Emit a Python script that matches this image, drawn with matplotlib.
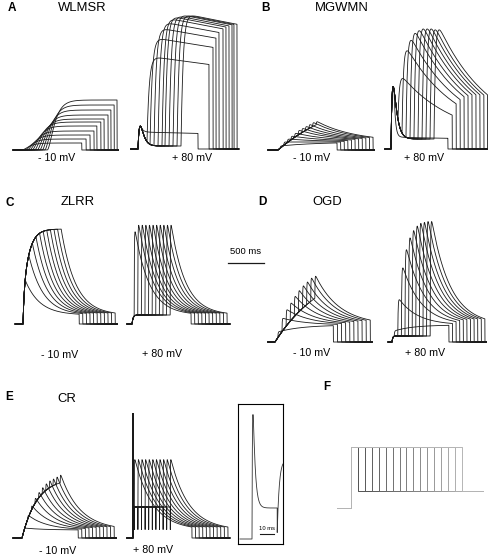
import numpy as np
import matplotlib
matplotlib.use('Agg')
import matplotlib.pyplot as plt

plt.rcParams['font.family'] = ['Liberation Sans', 'DejaVu Sans']

W, H = 489, 555
PX_PER_MS = 0.072      # 500 ms = 36 px
PX_PER_UNIT = 10.0     # current units (a.u.)
LINE = '#1a1a1a'

# ---- data (times in ms from pulse onset, currents in a.u.) ----
steps50 = [30, 80, 130, 180, 230, 280, 330, 380, 430, 480, 530]

A_neg_rise = [0, 35, 70, 105, 140, 175, 210, 245, 280, 315, 350]
A_neg_end = [830, 890, 945, 1000, 1040, 1095, 1140, 1195, 1235, 1280, 1320]
A_neg_peak = [0.7, 1.1, 1.5, 1.9, 2.4, 2.8, 3.1, 3.5, 4.0, 4.5, 5.0]

A_pos_step = [42, 125, 167, 222, 278, 333, 375, 431, 486, 542, 597]
A_pos_end = [833, 986, 1042, 1083, 1125, 1181, 1222, 1264, 1306, 1333, 1375]
A_pos_peak = [1.7, 9.3, 11.2, 12.2, 12.8, 13.2, 13.4, 13.5, 13.6, 13.6, 13.6]

B_neg_step = steps50
B_neg_end = [820, 870, 920, 970, 1020, 1070, 1120, 1170, 1220, 1270, 1320]
B_neg_peak = [0.4, 0.8, 1.1, 1.4, 1.7, 2.0, 2.2, 2.4, 2.6, 2.8, 2.9]

B_pos_step = [42, 97, 153, 208, 264, 319, 375, 431, 486, 542, 597]
B_pos_end = [790, 850, 905, 960, 1015, 1070, 1125, 1180, 1235, 1290, 1340]
B_pos_peak = [1.2, 7.8, 11.0, 12.2, 13.0, 13.3, 13.5, 13.5, 13.5, 13.4, 13.4]

C_neg_step = steps50
C_neg_end = [780, 830, 880, 930, 980, 1030, 1080, 1130, 1180, 1230, 1280]

C_pos_step = steps50
C_pos_end = [820, 870, 920, 970, 1020, 1070, 1120, 1170, 1220, 1270, 1320]
C_pos_peak = [9.9, 10.6, 10.6, 10.6, 10.6, 10.6, 10.6, 10.6, 10.6, 10.6, 10.6]

D_neg_step = [40, 97, 154, 211, 268, 325, 382, 439, 496, 553]
D_neg_end = [810, 867, 924, 981, 1038, 1095, 1152, 1209, 1266, 1323]
D_neg_peak = [1.0, 2.4, 3.3, 4.0, 4.7, 5.3, 5.8, 6.2, 6.6, 6.8]

D_pos_step = steps50
D_pos_end = [790, 840, 890, 940, 990, 1040, 1090, 1140, 1190, 1240, 1290]
D_pos_peak = [1.1, 4.5, 8.0, 10.0, 11.3, 12.1, 12.6, 12.9, 13.0, 13.1, 13.1]

E_neg_step = steps50
E_neg_end = [780, 830, 880, 930, 980, 1030, 1080, 1130, 1180, 1230, 1280]
E_neg_peak = [1.0, 2.3, 3.3, 4.1, 4.7, 5.2, 5.6, 5.9, 6.1, 6.3, 6.5]

E_pos_step = [18, 68, 118, 168, 218, 268, 318, 368, 418, 468, 518]
E_pos_end = [818, 868, 918, 968, 1018, 1068, 1118, 1168, 1218, 1268, 1318]
E_pos_peak = [8.1] * 11

# voltage protocol (panel F)
F_step_ms = [100, 200, 300, 400, 500, 600, 700, 800, 900, 1000, 1100, 1200, 1300, 1400, 1500, 1600]
F_hold, F_test, F_tail = -80, 80, -35


def spike(t, peak, tau_r, tau_d):
    tt = np.linspace(0, 10 * tau_d, 5000)
    kmax = (np.exp(-tt / tau_d) - np.exp(-tt / tau_r)).max()
    tp = np.clip(t, 0, None)
    return peak * (np.exp(-tp / tau_d) - np.exp(-tp / tau_r)) / kmax


def sweep(t, test, s, e, peak, tail, tau, tau_r, pw=1, start=None):
    y = np.zeros_like(t)
    on = (t >= 0) & (t < s)
    y[on] = test(t[on])
    gs = test(np.array([float(s)]))[0]
    g0 = gs if start is None else start
    if peak is None:
        peak = gs
    if tail is None:
        tail = peak
    m = (t >= s) & (t < e)
    dt = t[m] - s
    dec = tail + (peak - tail) * np.exp(-dt / tau)
    r = (1 - np.exp(-dt / tau_r)) ** pw
    y[m] = g0 + (dec - g0) * r
    return y


def make_ax(fig, x0, y0, t_lo, t_hi, y_lo=-1.0, y_hi=14.5, kx=PX_PER_MS, ky=PX_PER_UNIT, frame=False):
    left = x0 + t_lo * kx
    right = x0 + t_hi * kx
    top = y0 - y_hi * ky
    bot = y0 - y_lo * ky
    ax = fig.add_axes([left / W, 1 - bot / H, (right - left) / W, (bot - top) / H])
    ax.set_xlim(t_lo, t_hi)
    ax.set_ylim(y_lo, y_hi)
    ax.patch.set_alpha(0)
    if frame:
        ax.set_xticks([])
        ax.set_yticks([])
        for sp in ax.spines.values():
            sp.set_linewidth(0.8)
    else:
        ax.axis('off')
    return ax


def draw_panel(fig, x0, yb, t_lo, t_hi, test, steps, ends, peaks, tail, tau, tau_r,
               pw=1, start=None, dt=0.5):
    ax = make_ax(fig, x0, yb, t_lo, t_hi)
    t = np.arange(t_lo, t_hi + dt, dt)
    for i in range(len(steps)):
        pk = None if peaks is None else peaks[i]
        y = sweep(t, test, steps[i], ends[i], pk, tail, tau, tau_r, pw, start)
        ax.plot(t, y, color=LINE, lw=0.6, clip_on=False)
    return ax


def ftext(x, y, s, size, weight='normal', ha='center'):
    fig.text(x / W, 1 - y / H, s, fontsize=size, fontweight=weight, ha=ha, va='center')


fig = plt.figure(figsize=(W / 100, H / 100), dpi=100)
fig.patch.set_facecolor('white')

# A  WLMSR
draw_panel(fig, 22, 150, -125, 1340, lambda t: np.zeros_like(t),
           A_neg_rise, A_neg_end, A_neg_peak, None, 1e9, 80, pw=2)
draw_panel(fig, 138, 149, -100, 1400,
           lambda t: 0.3 * (1 - np.exp(-np.clip(t, 0, None) / 10)) + spike(t, 2.0, 25, 40),
           A_pos_step, A_pos_end, A_pos_peak, 0.0, 9000, 30)

# B  MGWMN
draw_panel(fig, 278, 150, -140, 1340, lambda t: 6.0 * (1 - np.exp(-t / 970)),
           B_neg_step, B_neg_end, B_neg_peak, 0.8, 530, 5)
draw_panel(fig, 391, 149, -85, 1350,
           lambda t: 1.0 * (1 - np.exp(-np.clip(t, 0, None) / 10)) + spike(t, 5.3, 20, 45),
           B_pos_step, B_pos_end, B_pos_peak, 1.0, 720, 20)

# C  ZLRR
draw_panel(fig, 23, 324, -110, 1310,
           lambda t: 2.7 * (1 - np.exp(-t / 15)) + 6.8 * (1 - np.exp(-t / 83)),
           C_neg_step, C_neg_end, None, 0.9, 200, 1)
axc = draw_panel(fig, 132, 324, -70, 1360, lambda t: 0.9 * (1 - np.exp(-t / 15)),
                 C_pos_step, C_pos_end, C_pos_peak, 0.9, 200, 3)
# 500 ms scale bar
axc.plot([1333, 1833], [6.1, 6.1], color=LINE, lw=0.9, clip_on=False)
axc.text(1583, 7.2, '500 ms', fontsize=6.8, ha='center', va='center')

# D  OGD
draw_panel(fig, 275, 342, -100, 1350, lambda t: 8.0 * (1 - np.exp(-t / 700)),
           D_neg_step, D_neg_end, D_neg_peak, 1.7, 330, 3)
draw_panel(fig, 392, 342, -55, 1310, lambda t: 0.6 * (1 - np.exp(-t / 10)),
           D_pos_step, D_pos_end, D_pos_peak, 1.7, 260, 5)

# E  CR
draw_panel(fig, 22, 538, -125, 1310, lambda t: 6.0 * (1 - np.exp(-t / 210)),
           E_neg_step, E_neg_end, E_neg_peak, 0.8, 270, 3)
E_test = lambda t: 3.1 * (1 - np.exp(-np.clip(t, 0, None) / 0.5)) + spike(t, 10.2, 0.3, 1.5)
draw_panel(fig, 133, 538, -85, 1345, E_test, E_pos_step, E_pos_end, E_pos_peak,
           0.8, 250, 1.5, start=0.6, dt=0.05)

# inset: first sweep of E +80 mV on a fast time base
axi = make_ax(fig, 252, 539, -10, 22.1, y_lo=-0.5, y_hi=13.5, kx=1.4, frame=True)
ti = np.arange(-8.6, 22.1, 0.01)
yi = sweep(ti, E_test, E_pos_step[0], E_pos_end[0], E_pos_peak[0], 0.8, 250, 1.5, start=0.6)
axi.plot(ti, yi, color='#333333', lw=0.6)
axi.plot([5.7, 15.7], [0.5, 0.5], color=LINE, lw=0.8)
axi.text(10.7, 1.1, '10 ms', fontsize=4.2, ha='center', va='center')

# F  voltage protocol
axf = make_ax(fig, 351, 477.5, -200, 1900, y_lo=-95, y_hi=95, kx=0.0693, ky=0.381)
greys = plt.cm.Greys(np.linspace(0.75, 0.4, len(F_step_ms)))
for i, s in enumerate(F_step_ms):
    axf.plot([-200, 0, 0, s, s, 1900], [F_hold, F_hold, F_test, F_test, F_tail, F_tail],
             color=greys[i], lw=0.7, clip_on=False)

# labels
ftext(8, 8, 'A', 8.5, 'bold', ha='left')
ftext(82, 8, 'WLMSR', 9.4)
ftext(261, 8, 'B', 8.5, 'bold', ha='left')
ftext(342, 8, 'MGWMN', 9.4)
ftext(6, 203, 'C', 8.5, 'bold', ha='left')
ftext(78, 202, 'ZLRR', 9.4)
ftext(258, 202, 'D', 8.5, 'bold', ha='left')
ftext(327, 202, 'OGD', 9.4)
ftext(5, 397, 'E', 8.5, 'bold', ha='left')
ftext(67, 399, 'CR', 9.4)
ftext(323, 387, 'F', 8.5, 'bold', ha='left')

for x, y, s in [(57, 158, '- 10 mV'), (192, 158, '+ 80 mV'),
                (312, 158, '- 10 mV'), (424, 158, '+ 80 mV'),
                (60, 355, '- 10 mV'), (162, 354, '+ 80 mV'),
                (312, 353, '- 10 mV'), (425, 353, '+ 80 mV'),
                (58, 551, '- 10 mV'), (153, 550, '+ 80 mV')]:
    ftext(x, y, s, 7.7)

fig.savefig('out.png', dpi=100, facecolor='white')
